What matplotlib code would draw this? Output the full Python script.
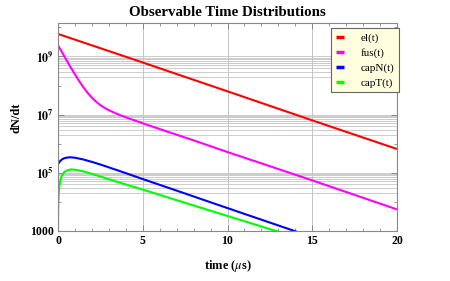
import numpy as np
import matplotlib
matplotlib.use("Agg")
import matplotlib.pyplot as plt
from matplotlib.ticker import FixedLocator, FixedFormatter

plt.rcParams['font.family'] = ['Liberation Serif', 'DejaVu Serif']
plt.rcParams['mathtext.fontset'] = 'stix'

# ---- data ----
t_el = [0, 5, 10, 15, 20]
el = [5.97e9, 6.2e8, 6.3e7, 6.3e6, 6.5e5]

t_fus = [0, 0.25, 0.5, 0.75, 1.0, 1.25, 1.5, 1.75, 2.0, 2.25, 2.5, 2.75, 3.0, 3.5, 4.0,
         5.0, 6.0, 8.0, 10.0, 15.0, 20.0]
fus = [2.45e9, 1.35e9, 7.48e8, 4.2e8, 2.4e8, 1.42e8, 8.65e7, 5.56e7, 3.8e7, 2.75e7, 2.11e7,
       1.69e7, 1.41e7, 1.04e7, 8.04e6, 5.0e6, 3.16e6, 1.29e6, 5.1e5, 5.4e4, 5.4e3]

t_capN = [0, 0.1, 0.25, 0.4, 0.6, 0.75, 1.0, 1.5, 2.0, 2.5, 3.0, 4.0, 5.0, 7.0, 10.0, 13.9, 15.0]
capN = [1.95e5, 2.41e5, 2.9e5, 3.18e5, 3.35e5, 3.37e5, 3.26e5, 2.83e5, 2.34e5, 1.9e5, 1.52e5,
        9.6e4, 6.0e4, 2.4e4, 6.0e3, 1.0e3, 6.0e2]

t_capT = [0, 0.005, 0.01, 0.02, 0.05, 0.1, 0.2, 0.35, 0.5, 0.75, 1.0, 1.5, 2.0, 3.0, 4.0,
          5.0, 7.0, 10.0, 12.8, 14.0]
capT = [1e2, 2.4e3, 4.8e3, 9.4e3, 2.2e4, 4.2e4, 7.2e4, 1.02e5, 1.17e5, 1.29e5, 1.26e5, 1.1e5,
        9.1e4, 5.9e4, 3.9e4, 2.6e4, 1.12e4, 3.2e3, 1.0e3, 6.0e2]

series_labels = ['el(t)', 'fus(t)', 'capN(t)', 'capT(t)']
series_colors = ['#FF0000', '#FF00FF', '#0000FF', '#00FF00']

x_ticks = [0, 5, 10, 15, 20]
y_ticks = [1e3, 1e5, 1e7, 1e9]
y_ticklabels = ['1000', r'$\mathbf{10^{5}}$', r'$\mathbf{10^{7}}$', r'$\mathbf{10^{9}}$']

# ---- figure ----
fig = plt.figure(figsize=(4.5, 2.81), dpi=100)
ax = fig.add_axes([58/450, 1-230.7/281, (397-58)/450, (230.7-22.5)/281])

ax.set_yscale('log')
ax.set_xlim(0, 20)
ax.set_ylim(1e3, 1.48e10)

# grid lines
grid_c = '#c4c4c4'
for x in [5, 10, 15]:
    ax.axvline(x, color=grid_c, lw=0.7, zorder=0)
for dec in [4, 6, 8]:
    for k in range(2, 11):
        ax.axhline(k * 10**dec, color=grid_c, lw=0.6, zorder=0)

data = [(t_el, el), (t_fus, fus), (t_capN, capN), (t_capT, capT)]
for (tt, yy), lab, col in zip(data, series_labels, series_colors):
    ax.plot(tt, yy, color=col, lw=1.5, label=lab, solid_capstyle='butt', clip_on=True)

frame_c = '#888888'
for s in ax.spines.values():
    s.set_color(frame_c)
    s.set_linewidth(0.8)

ax.xaxis.set_major_locator(FixedLocator(x_ticks))
ax.xaxis.set_minor_locator(FixedLocator([i for i in range(21) if i % 5]))
ax.yaxis.set_major_locator(FixedLocator(y_ticks))
ax.yaxis.set_major_formatter(FixedFormatter(y_ticklabels))
ax.yaxis.set_minor_locator(FixedLocator([1e4, 1e6, 1e8, 1e10]))
ax.yaxis.set_minor_formatter(FixedFormatter([]))
ax.tick_params(which='both', direction='in', top=True, right=True, color=frame_c)
ax.tick_params(which='major', length=4, width=0.7, labelsize=8.5, pad=3)
ax.tick_params(which='minor', length=2, width=0.6)
for lbl in ax.get_xticklabels() + ax.get_yticklabels():
    lbl.set_fontweight('bold')

ax.set_title('Observable Time Distributions', fontsize=10.7, fontweight='bold', pad=5)
ax.set_xlabel(r'time ($\mu$s)', fontsize=9, fontweight='bold', labelpad=8)
ax.set_ylabel('dN/dt', fontsize=9, fontweight='bold')
ax.yaxis.set_label_coords(-0.104, 0.541)

leg = ax.legend(loc='upper right', bbox_to_anchor=(1.006, 0.972), borderaxespad=0,
                fontsize=8, handlelength=0.75, handletextpad=1.5, labelspacing=0.45,
                fancybox=False, framealpha=1, borderpad=0.4)
leg.get_frame().set_facecolor('#FFFFE0')
leg.get_frame().set_edgecolor('#666666')
leg.get_frame().set_linewidth(0.8)
for h in leg.get_lines():
    h.set_linewidth(2.5)

fig.savefig('out.png', dpi=100)
